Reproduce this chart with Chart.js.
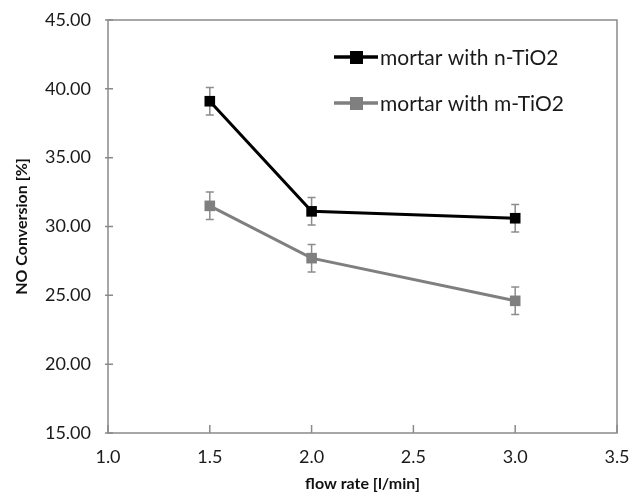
<!DOCTYPE html>
<html>
<head>
<meta charset="utf-8">
<script src="https://cdn.jsdelivr.net/npm/chart.js@4"></script>
<style>
  body { margin: 0; background: #fff; }
  #wrap { width: 636px; height: 497px; }
</style>
</head>
<body>
<div id="wrap"><canvas id="lineChart"></canvas></div>
<script>
// data
var flowRates = [1.5, 2.0, 3.0];
var nTiO2 = [39.1, 31.1, 30.6];
var mTiO2 = [31.5, 27.7, 24.6];
var nErr = [1.0, 1.0, 1.0];
var mErr = [1.0, 1.0, 1.0];
var xTicks = [1.0, 1.5, 2.0, 2.5, 3.0, 3.5];
var yTicks = [15, 20, 25, 30, 35, 40, 45];

var FONT = 'Lato, "Open Sans", sans-serif';
var AXIS = '#8a8a8a';
var TEXT = '#1a1a1a';

function pts(ys) {
    return flowRates.map(function (x, i) { return { x: x, y: ys[i] }; });
}

// error bars, box border, ticks and legend inside the plot
var extras = {
    id: 'extras',
    beforeDatasetsDraw: function (chart) {
        var c = chart.ctx, xs = chart.scales.x, ys = chart.scales.y;
        c.save();
        c.strokeStyle = '#8c8c8c';
        c.lineWidth = 1.5;
        chart.data.datasets.forEach(function (ds) {
            ds.data.forEach(function (p, i) {
                var px = xs.getPixelForValue(p.x);
                var top = ys.getPixelForValue(p.y + ds.err[i]);
                var bot = ys.getPixelForValue(p.y - ds.err[i]);
                c.beginPath();
                c.moveTo(px, top); c.lineTo(px, bot);
                c.moveTo(px - 4, top); c.lineTo(px + 4, top);
                c.moveTo(px - 4, bot); c.lineTo(px + 4, bot);
                c.stroke();
            });
        });
        c.restore();
    },
    afterDraw: function (chart) {
        var c = chart.ctx, a = chart.chartArea, xs = chart.scales.x, ys = chart.scales.y;
        c.save();
        c.strokeStyle = AXIS;
        c.lineWidth = 1.5;
        c.strokeRect(a.left, a.top, a.right - a.left, a.bottom - a.top);
        c.beginPath();
        xTicks.forEach(function (t) {
            var px = xs.getPixelForValue(t);
            c.moveTo(px, a.bottom); c.lineTo(px, a.bottom - 8);
        });
        yTicks.forEach(function (t) {
            var py = ys.getPixelForValue(t);
            c.moveTo(a.left - 3, py); c.lineTo(a.left + 5, py);
        });
        c.stroke();

        // legend
        c.font = '21px ' + FONT;
        c.textBaseline = 'middle';
        chart.data.datasets.forEach(function (ds, i) {
            var y = 57 + i * 46;
            c.strokeStyle = ds.borderColor;
            c.lineWidth = 3.5;
            c.beginPath(); c.moveTo(334, y); c.lineTo(378, y); c.stroke();
            c.fillStyle = ds.backgroundColor;
            c.fillRect(350, y - 6, 13, 13);
            c.fillStyle = TEXT;
            c.fillText(ds.label, 380, y + 1);
        });
        c.restore();
    }
};

var ctx = document.getElementById('lineChart').getContext('2d');
var myChart = new Chart(ctx, {
    type: 'line',
    data: {
        datasets: [
            {
                label: 'mortar with n-TiO2',
                data: pts(nTiO2),
                err: nErr,
                borderColor: '#000000',
                backgroundColor: '#000000',
                borderWidth: 3,
                pointStyle: 'rect',
                pointRadius: 7.5,
                pointBorderWidth: 0
            },
            {
                label: 'mortar with m-TiO2',
                data: pts(mTiO2),
                err: mErr,
                borderColor: '#7f7f7f',
                backgroundColor: '#7f7f7f',
                borderWidth: 3,
                pointStyle: 'rect',
                pointRadius: 7.5,
                pointBorderWidth: 0
            }
        ]
    },
    options: {
        responsive: true,
        maintainAspectRatio: false,
        animation: false,
        layout: { padding: { top: 20, right: 19, left: 12, bottom: 4 } },
        plugins: { legend: { display: false }, tooltip: { enabled: false } },
        scales: {
            x: {
                type: 'linear',
                min: 1.0,
                max: 3.5,
                grid: { display: false },
                border: { display: false },
                ticks: {
                    stepSize: 0.5,
                    padding: 5,
                    color: TEXT,
                    font: { family: FONT, size: 18 },
                    callback: function (v) { return v.toFixed(1); }
                },
                title: {
                    display: true,
                    text: 'flow rate [l/min]',
                    color: '#111',
                    font: { family: FONT, size: 16, weight: 'bold' },
                    padding: { top: 4, bottom: 0 }
                },
                afterFit: function (s) { s.height = 60; }
            },
            y: {
                min: 15,
                max: 45,
                grid: { display: false },
                border: { display: false },
                ticks: {
                    stepSize: 5,
                    padding: 9,
                    color: TEXT,
                    font: { family: FONT, size: 18 },
                    callback: function (v) { return v.toFixed(2); }
                },
                title: {
                    display: true,
                    text: 'NO Conversion [%]',
                    color: '#111',
                    font: { family: FONT, size: 16, weight: 'bold' },
                    padding: { top: 0, bottom: 4 }
                },
                afterFit: function (s) { s.width = 96; }
            }
        }
    },
    plugins: [extras]
});
</script>
</body>
</html>
